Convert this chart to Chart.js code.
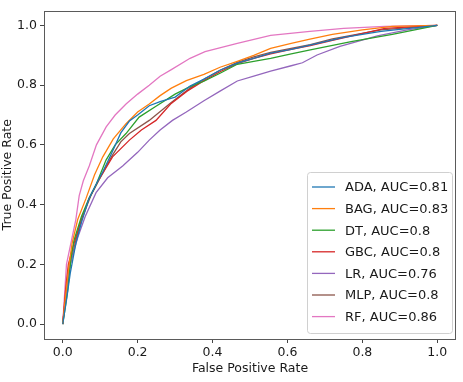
<!DOCTYPE html>
<html>
<head>
<meta charset="utf-8">
<script src="https://cdn.jsdelivr.net/npm/chart.js@4"></script>
<style>
  html, body { margin: 0; padding: 0; background: #fff; }
  #wrap { width: 463px; height: 382px; }
</style>
</head>
<body>
<div id="wrap"><canvas id="rocChart" width="463" height="382"></canvas></div>
<script>
// ROC curves, [fpr, tpr]
const labels = ['ADA, AUC=0.81', 'BAG, AUC=0.83', 'DT, AUC=0.8', 'GBC, AUC=0.8', 'LR, AUC=0.76', 'MLP, AUC=0.8', 'RF, AUC=0.86'];
const colors = ['#1f77b4', '#ff7f0e', '#2ca02c', '#d62728', '#9467bd', '#8c564b', '#e377c2'];

const ada = [[0,0],[0.01,0.08],[0.02,0.17],[0.035,0.27],[0.05,0.34],[0.07,0.42],[0.09,0.47],[0.107,0.51],[0.13,0.57],[0.155,0.64],[0.178,0.68],[0.2,0.7],[0.231,0.731],[0.26,0.745],[0.3,0.76],[0.34,0.797],[0.377,0.82],[0.42,0.85],[0.466,0.874],[0.51,0.89],[0.555,0.907],[0.61,0.92],[0.66,0.934],[0.75,0.96],[0.85,0.98],[1,1]];
const bag = [[0,0],[0.008,0.1],[0.016,0.19],[0.025,0.27],[0.04,0.35],[0.062,0.42],[0.085,0.5],[0.107,0.56],[0.135,0.62],[0.169,0.671],[0.2,0.71],[0.231,0.737],[0.26,0.765],[0.29,0.79],[0.33,0.815],[0.377,0.836],[0.42,0.86],[0.466,0.88],[0.51,0.9],[0.555,0.923],[0.61,0.94],[0.66,0.954],[0.72,0.97],[0.8,0.985],[0.88,0.997],[1,1]];
const dt = [[0,0],[0.013,0.11],[0.022,0.22],[0.03,0.28],[0.05,0.36],[0.07,0.42],[0.09,0.47],[0.116,0.55],[0.14,0.6],[0.169,0.638],[0.204,0.693],[0.25,0.73],[0.3,0.77],[0.34,0.795],[0.377,0.813],[0.42,0.84],[0.466,0.87],[0.51,0.88],[0.555,0.89],[0.61,0.905],[0.661,0.918],[0.77,0.946],[0.88,0.97],[1,1]];
const gbc = [[0,0],[0.008,0.12],[0.015,0.2],[0.03,0.27],[0.045,0.33],[0.07,0.42],[0.095,0.48],[0.133,0.56],[0.178,0.616],[0.21,0.65],[0.249,0.682],[0.288,0.737],[0.332,0.78],[0.377,0.815],[0.42,0.845],[0.466,0.872],[0.51,0.89],[0.555,0.905],[0.61,0.92],[0.661,0.932],[0.72,0.95],[0.86,0.99],[1,1]];
const lr = [[0,0],[0.01,0.12],[0.02,0.2],[0.04,0.29],[0.06,0.36],[0.089,0.44],[0.12,0.49],[0.16,0.529],[0.2,0.575],[0.231,0.616],[0.26,0.65],[0.293,0.682],[0.33,0.71],[0.377,0.748],[0.42,0.78],[0.466,0.814],[0.51,0.83],[0.555,0.847],[0.61,0.865],[0.64,0.875],[0.679,0.901],[0.74,0.93],[0.84,0.965],[0.92,0.985],[1,1]];
const mlp = [[0,0],[0.01,0.12],[0.02,0.2],[0.035,0.28],[0.05,0.35],[0.075,0.43],[0.1,0.49],[0.13,0.56],[0.155,0.61],[0.178,0.638],[0.231,0.682],[0.288,0.74],[0.34,0.79],[0.377,0.82],[0.42,0.85],[0.466,0.876],[0.51,0.895],[0.555,0.91],[0.661,0.936],[0.72,0.955],[0.85,0.985],[1,1]];
const rf = [[0,0],[0.005,0.1],[0.01,0.2],[0.02,0.26],[0.035,0.35],[0.044,0.43],[0.055,0.48],[0.071,0.53],[0.09,0.6],[0.116,0.66],[0.14,0.7],[0.169,0.737],[0.2,0.77],[0.231,0.8],[0.26,0.83],[0.29,0.852],[0.34,0.89],[0.38,0.912],[0.466,0.94],[0.555,0.967],[0.66,0.98],[0.75,0.99],[0.86,0.997],[1,1]];

const xTicks = [0, 0.2, 0.4, 0.6, 0.8, 1.0];
const yTicks = [0, 0.2, 0.4, 0.6, 0.8, 1.0];

const series = [ada, bag, dt, gbc, lr, mlp, rf];
const FONT = 'DejaVu Sans';
const TXT = '#1a1a1a';

// frame around plot area
const framePlugin = {
    id: 'frame',
    afterDraw(chart) {
        const a = chart.chartArea, ctx = chart.ctx;
        ctx.save();
        ctx.strokeStyle = '#5a5a5a';
        ctx.lineWidth = 1;
        ctx.strokeRect(Math.round(a.left) + 0.5, Math.round(a.top) + 0.5,
            Math.round(a.right - a.left) - 1, Math.round(a.bottom - a.top) - 1);
        ctx.restore();
    }
};

// matplotlib-style legend in the lower right of the plot
const legendPlugin = {
    id: 'innerLegend',
    afterDraw(chart) {
        const a = chart.chartArea, ctx = chart.ctx;
        const w = 145, rowH = 21.6, h = 161;
        const x0 = a.right - 4 - w, y0 = a.bottom - 6 - h;
        ctx.save();
        ctx.beginPath();
        ctx.roundRect(x0 + 0.5, y0 + 0.5, w, h, 3);
        ctx.fillStyle = 'rgba(255,255,255,0.85)';
        ctx.fill();
        ctx.strokeStyle = '#d0d0d0';
        ctx.lineWidth = 1;
        ctx.stroke();
        ctx.font = '13px ' + FONT;
        ctx.textBaseline = 'middle';
        chart.data.datasets.forEach((ds, i) => {
            const y = y0 + 15 + i * rowH;
            ctx.strokeStyle = ds.borderColor;
            ctx.lineWidth = 1.3;
            ctx.beginPath();
            ctx.moveTo(x0 + 5, y);
            ctx.lineTo(x0 + 28, y);
            ctx.stroke();
            ctx.fillStyle = TXT;
            ctx.fillText(ds.label, x0 + 38, y + 1);
        });
        ctx.restore();
    }
};

const chart = new Chart(document.getElementById('rocChart').getContext('2d'), {
    type: 'scatter',
    data: {
        datasets: series.map((pts, i) => ({
            label: labels[i],
            data: pts.map(p => ({ x: p[0], y: p[1] })),
            showLine: true,
            borderColor: colors[i],
            backgroundColor: colors[i],
            borderWidth: 1.3,
            pointRadius: 0,
            tension: 0
        }))
    },
    options: {
        responsive: false,
        animation: false,
        devicePixelRatio: 1,
        layout: { padding: { top: 5, right: 7, left: 0, bottom: 0 } },
        plugins: {
            legend: { display: false },
            tooltip: { enabled: false }
        },
        scales: {
            x: {
                type: 'linear',
                min: -0.05,
                max: 1.05,
                afterBuildTicks: s => { s.ticks = xTicks.map(v => ({ value: v })); },
                afterFit: s => { s.height = 43; },
                ticks: {
                    callback: v => v.toFixed(1),
                    color: TXT,
                    font: { family: FONT, size: 12.5 },
                    padding: 2,
                    maxRotation: 0
                },
                grid: { drawOnChartArea: false, drawTicks: true, tickLength: 4, color: '#444' },
                border: { display: false },
                title: {
                    display: true,
                    text: 'False Positive Rate',
                    color: TXT,
                    font: { family: FONT, size: 12.5 },
                    padding: { top: 0, bottom: 6 }
                }
            },
            y: {
                type: 'linear',
                min: -0.05,
                max: 1.05,
                afterBuildTicks: s => { s.ticks = yTicks.map(v => ({ value: v })); },
                afterFit: s => { s.width = 44; },
                ticks: {
                    callback: v => v.toFixed(1),
                    color: TXT,
                    font: { family: FONT, size: 12.5 },
                    padding: 3
                },
                grid: { drawOnChartArea: false, drawTicks: true, tickLength: 4, color: '#444' },
                border: { display: false },
                title: {
                    display: true,
                    text: 'True Positive Rate',
                    color: TXT,
                    font: { family: FONT, size: 12.5 },
                    padding: { top: 0, bottom: 0 }
                }
            }
        }
    },
    plugins: [framePlugin, legendPlugin]
});
</script>
</body>
</html>
